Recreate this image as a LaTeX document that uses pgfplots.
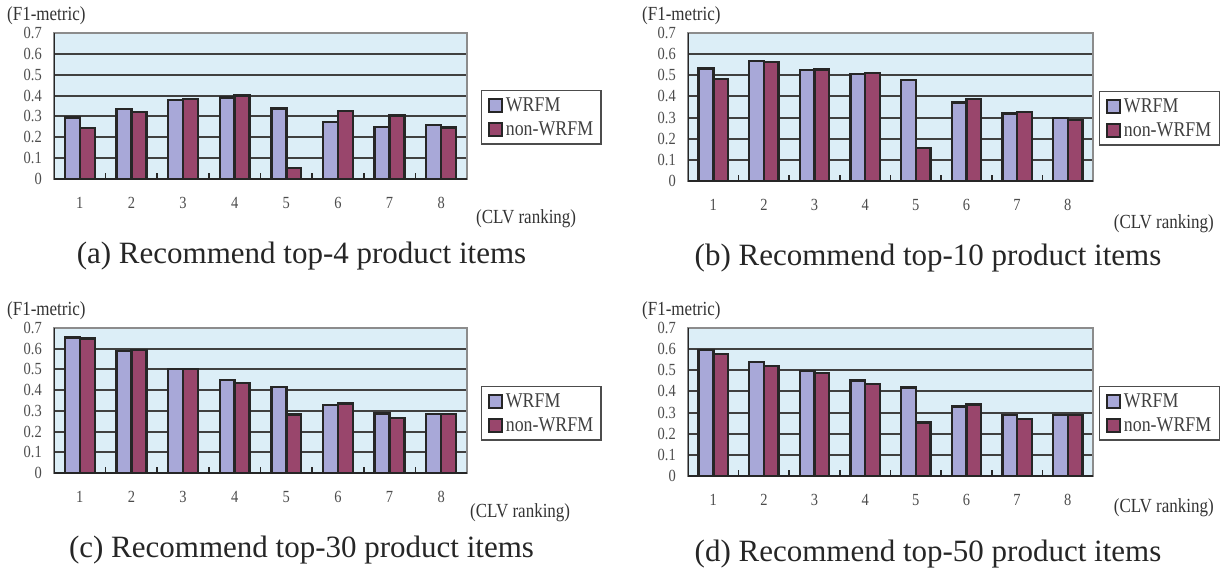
\documentclass[border=0pt]{standalone}
\usepackage{fontspec}
\setmainfont{Liberation Serif}
\newfontfamily\legfont[FakeStretch=0.85]{Liberation Serif}
\usepackage{pgfplots}
\usepackage{pgfplotstable}
\pgfplotsset{compat=1.18}

\definecolor{bgblue}{RGB}{220,238,247}
\definecolor{wr}{RGB}{168,168,216}
\definecolor{nw}{RGB}{153,70,108}

\pgfplotstableread{
x w n
1 0.295 0.245
2 0.335 0.320
3 0.380 0.385
4 0.390 0.400
5 0.338 0.054
6 0.274 0.326
7 0.248 0.305
8 0.258 0.246
}\dataA
\pgfplotstableread{
x w n
1 0.533 0.483
2 0.567 0.562
3 0.524 0.527
4 0.505 0.510
5 0.478 0.156
6 0.371 0.389
7 0.319 0.327
8 0.297 0.289
}\dataB
\pgfplotstableread{
x w n
1 0.655 0.649
2 0.588 0.595
3 0.503 0.503
4 0.449 0.434
5 0.415 0.282
6 0.329 0.335
7 0.287 0.266
8 0.284 0.284
}\dataC
\pgfplotstableread{
x w n
1 0.596 0.578
2 0.539 0.521
3 0.498 0.487
4 0.452 0.434
5 0.418 0.254
6 0.328 0.338
7 0.288 0.271
8 0.288 0.288
}\dataD

\pgfplotsset{
  panel/.style={
    scale only axis,
    anchor=south west,
    ybar=0pt,
    bar width=0.29,
    xmin=0.5, xmax=8.5,
    ymin=0, ymax=0.7,
    enlargelimits=false,
    xtick={1,2,3,4,5,6,7,8},
    ytick={0,0.1,0.2,0.3,0.4,0.5,0.6,0.7},
    minor xtick={1.5,2.5,3.5,4.5,5.5,6.5,7.5},
    xtick pos=left, ytick pos=left,
    tick align=inside,
    major tick length=0pt,
    minor tick length=6bp,
    minor x tick style={black!85, line width=1.6bp},
    ymajorgrids,
    grid style={black!75, line width=2bp},
    axis line style={draw=black!45, line width=1.6bp},
    axis background/.style={fill=bgblue},
    /pgf/number format/assume math mode=true,
    /pgf/number format/.cd, fixed, precision=1, /pgfplots/.cd,
    tick label style={font=\legfont\fontsize{17bp}{19bp}\selectfont, text=black!70},
    x tick label style={anchor=center, yshift=-24bp},
    y tick label style={anchor=east, inner sep=0pt, xshift=-12bp},
    legend style={
      anchor=north west,
      draw=black!70, line width=1.3bp, fill=white,
      font=\legfont\fontsize{21bp}{24bp}\selectfont,
      text=black!75,
      inner xsep=6bp, inner ysep=5bp,
      row sep=5bp,
      legend cell align=left,
      /tikz/every odd column/.append style={column sep=1bp},
    },
  },
  barw/.style={fill=wr, draw=black!85, line width=2.4bp,
    legend image code/.code={\draw[fill=wr, draw=black!85, line width=2.2bp] (0bp,-6.5bp) rectangle (13bp,6.5bp);}},
  barn/.style={fill=nw, draw=black!85, line width=2.4bp,
    legend image code/.code={\draw[fill=nw, draw=black!85, line width=2.2bp] (0bp,-6.5bp) rectangle (13bp,6.5bp);}},
}

\newcommand\edges{%
  \draw[black!85, line width=2.4bp] (rel axis cs:0,0) -- (rel axis cs:0,1);
  \draw[black!85, line width=2.4bp] (rel axis cs:0,0) -- (rel axis cs:1,0);
}

\begin{document}
\begin{tikzpicture}
\path[use as bounding box] (0bp,0bp) rectangle (1223bp,-568bp);

% (a)
\begin{axis}[panel, at={(54bp,-179bp)}, width=413bp, height=146bp,
  legend style={at={(1.034,0.61)}}]
\addplot[barw] table[x=x,y=w]{\dataA};
\addplot[barn] table[x=x,y=n]{\dataA};
\legend{WRFM,non-WRFM}
\edges
\end{axis}

% (b)
\begin{axis}[panel, at={(688bp,-181bp)}, width=405bp, height=148bp,
  legend style={at={(1.015,0.608)}}]
\addplot[barw] table[x=x,y=w]{\dataB};
\addplot[barn] table[x=x,y=n]{\dataB};
\legend{WRFM,non-WRFM}
\edges
\end{axis}

% (c)
\begin{axis}[panel, at={(54bp,-473bp)}, width=413bp, height=145bp,
  legend style={at={(1.034,0.60)}}]
\addplot[barw] table[x=x,y=w]{\dataC};
\addplot[barn] table[x=x,y=n]{\dataC};
\legend{WRFM,non-WRFM}
\edges
\end{axis}

% (d)
\begin{axis}[panel, at={(688bp,-476bp)}, width=405bp, height=148bp,
  legend style={at={(1.015,0.608)}}]
\addplot[barw] table[x=x,y=w]{\dataD};
\addplot[barn] table[x=x,y=n]{\dataD};
\legend{WRFM,non-WRFM}
\edges
\end{axis}

\begin{scope}[every node/.style={inner sep=0pt, text=black!80}]
\node[anchor=west, font=\legfont\fontsize{20bp}{22bp}\selectfont] at (7bp,-16bp) {(F1-metric)};
\node[anchor=west, font=\legfont\fontsize{20bp}{22bp}\selectfont] at (642bp,-16bp) {(F1-metric)};
\node[anchor=west, font=\legfont\fontsize{20bp}{22bp}\selectfont] at (7bp,-311bp) {(F1-metric)};
\node[anchor=west, font=\legfont\fontsize{20bp}{22bp}\selectfont] at (642bp,-311bp) {(F1-metric)};

\node[anchor=west, font=\legfont\fontsize{20bp}{22bp}\selectfont] at (476bp,-219bp) {(CLV ranking)};
\node[anchor=east, font=\legfont\fontsize{20bp}{22bp}\selectfont] at (1214bp,-224bp) {(CLV ranking)};
\node[anchor=west, font=\legfont\fontsize{20bp}{22bp}\selectfont] at (470bp,-513bp) {(CLV ranking)};
\node[anchor=east, font=\legfont\fontsize{20bp}{22bp}\selectfont] at (1214bp,-508bp) {(CLV ranking)};

\node[anchor=base, font=\fontsize{31bp}{34bp}\selectfont, text=black!85] at (301.5bp,-263bp) {(a) Recommend top-4 product items};
\node[anchor=base, font=\fontsize{31bp}{34bp}\selectfont, text=black!85] at (928bp,-265bp) {(b) Recommend top-10 product items};
\node[anchor=base, font=\fontsize{31bp}{34bp}\selectfont, text=black!85] at (301.5bp,-557bp) {(c) Recommend top-30 product items};
\node[anchor=base, font=\fontsize{31bp}{34bp}\selectfont, text=black!85] at (928bp,-561bp) {(d) Recommend top-50 product items};
\end{scope}
\end{tikzpicture}
\end{document}
